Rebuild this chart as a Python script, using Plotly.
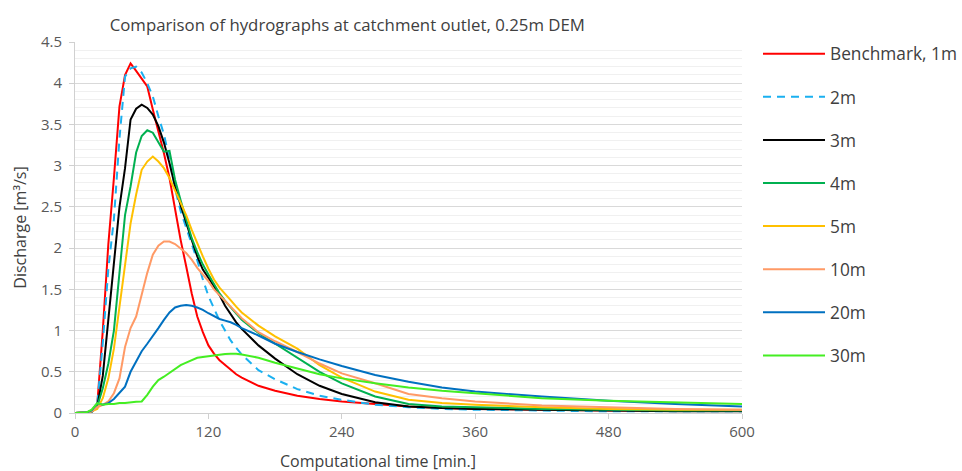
import plotly.graph_objects as go

time_min = [0, 5, 10, 15, 20, 25, 30, 35, 40, 45, 50, 55, 60, 65, 70, 75, 80, 85, 90, 95,
            100, 105, 110, 115, 120, 125, 130, 135, 140, 145, 150, 165, 180, 200, 220, 240,
            270, 300, 330, 360, 420, 480, 540, 600]

q_1m = [0, 0, 0.005, 0.01, 0.1, 1.0, 2.05, 2.85, 3.72, 4.1, 4.24, 4.15, 4.06, 3.96, 3.68, 3.42,
        3.15, 2.85, 2.45, 2.1, 1.78, 1.45, 1.17, 0.98, 0.82, 0.72, 0.64, 0.58, 0.52, 0.47,
        0.43, 0.33, 0.27, 0.21, 0.17, 0.14, 0.11, 0.08, 0.06, 0.05, 0.04, 0.03, 0.03, 0.03]
q_2m = [0, 0, 0.005, 0.01, 0.1, 0.85, 1.75, 2.35, 3.33, 4.08, 4.18, 4.2, 4.13, 4.0, 3.84, 3.6,
        3.38, 3.08, 2.72, 2.45, 2.25, 2.05, 1.85, 1.62, 1.42, 1.27, 1.12, 1.0, 0.88, 0.79,
        0.71, 0.52, 0.41, 0.29, 0.21, 0.16, 0.1, 0.07, 0.05, 0.04, 0.03, 0.02, 0.02, 0.02]
q_3m = [0, 0, 0.005, 0.02, 0.08, 0.45, 1.15, 1.8, 2.5, 2.97, 3.56, 3.69, 3.74, 3.7, 3.62, 3.48,
        3.28, 3.03, 2.75, 2.52, 2.3, 2.1, 1.9, 1.74, 1.64, 1.53, 1.43, 1.3, 1.2, 1.1,
        1.02, 0.82, 0.66, 0.47, 0.33, 0.23, 0.13, 0.08, 0.06, 0.05, 0.04, 0.03, 0.02, 0.02]
q_4m = [0, 0, 0.005, 0.02, 0.08, 0.3, 0.6, 1.0, 1.75, 2.4, 2.75, 3.16, 3.36, 3.43, 3.4, 3.28,
        3.17, 3.18, 2.83, 2.58, 2.35, 2.12, 1.95, 1.8, 1.68, 1.56, 1.45, 1.36, 1.28, 1.2,
        1.13, 0.97, 0.84, 0.67, 0.5, 0.36, 0.2, 0.11, 0.08, 0.07, 0.05, 0.04, 0.03, 0.03]
q_5m = [0, 0, 0.005, 0.02, 0.05, 0.18, 0.42, 0.78, 1.3, 1.8, 2.3, 2.65, 2.95, 3.05, 3.11, 3.05,
        2.97, 2.85, 2.7, 2.56, 2.4, 2.22, 2.05, 1.9, 1.75, 1.62, 1.52, 1.45, 1.37, 1.29,
        1.22, 1.06, 0.93, 0.78, 0.58, 0.43, 0.26, 0.16, 0.12, 0.1, 0.07, 0.05, 0.04, 0.04]
q_10m = [0, 0, 0.005, 0.02, 0.07, 0.1, 0.14, 0.24, 0.42, 0.8, 1.03, 1.17, 1.45, 1.7, 1.92, 2.03,
         2.08, 2.08, 2.05, 1.99, 1.94, 1.86, 1.76, 1.68, 1.6, 1.5, 1.43, 1.36, 1.29, 1.22,
         1.15, 0.98, 0.87, 0.74, 0.6, 0.48, 0.36, 0.23, 0.18, 0.14, 0.09, 0.07, 0.05, 0.04]
q_20m = [0, 0, 0.005, 0.03, 0.12, 0.1, 0.12, 0.17, 0.24, 0.32, 0.5, 0.62, 0.75, 0.84, 0.93, 1.03,
         1.13, 1.22, 1.28, 1.3, 1.31, 1.3, 1.28, 1.25, 1.21, 1.17, 1.14, 1.12, 1.1, 1.07,
         1.03, 0.94, 0.84, 0.74, 0.65, 0.57, 0.46, 0.38, 0.31, 0.26, 0.2, 0.15, 0.11, 0.08]
q_30m = [0, 0, 0.005, 0.04, 0.12, 0.1, 0.11, 0.11, 0.12, 0.12, 0.13, 0.135, 0.14, 0.22, 0.32, 0.4,
         0.44, 0.49, 0.53, 0.58, 0.61, 0.64, 0.67, 0.68, 0.69, 0.7, 0.71, 0.715, 0.72, 0.72,
         0.71, 0.67, 0.61, 0.54, 0.47, 0.42, 0.36, 0.31, 0.27, 0.24, 0.18, 0.15, 0.13, 0.11]

series_names = ["Benchmark, 1m", "2m", "3m", "4m", "5m", "10m", "20m", "30m"]
series_values = [q_1m, q_2m, q_3m, q_4m, q_5m, q_10m, q_20m, q_30m]
series_colors = ["#ff0000", "#1ab0f0", "#000000", "#00b050", "#ffc000", "#ff9a66", "#0070c0", "#44ee22"]
series_dash = ["solid", "8px,6px", "solid", "solid", "solid", "solid", "solid", "solid"]

x_ticks = [0, 120, 240, 360, 480, 600]
y_ticks = [0, 0.5, 1, 1.5, 2, 2.5, 3, 3.5, 4, 4.5]
y_tick_text = ["0", "0.5", "1", "1.5", "2", "2.5", "3", "3.5", "4", "4.5"]

FONT = "Open Sans"
GREY = "#595959"
DARK = "#404040"

fig = go.Figure()
for i, (name, vals, col, dash) in enumerate(zip(series_names, series_values, series_colors, series_dash)):
    fig.add_trace(go.Scatter(
        x=time_min, y=vals, mode="lines", name=name,
        line=dict(color=col, width=2, dash=dash),
        legendgroup=f"g{i}",
    ))

fig.update_layout(
    width=962, height=471,
    margin=dict(l=75, r=220, t=42, b=58, autoexpand=False),
    plot_bgcolor="white", paper_bgcolor="white",
    font=dict(family=FONT, color=GREY, size=14),
    title=dict(text="Comparison of hydrographs at catchment outlet, 0.25m DEM",
               x=0.361, xref="container", xanchor="center",
               y=0.947, yref="container", yanchor="middle",
               font=dict(family=FONT, size=16.8, color=DARK)),
    showlegend=True,
    legend=dict(x=758 / 962, xref="container", xanchor="left",
                y=1 - 36 / 471, yref="container", yanchor="top",
                font=dict(family=FONT, size=17.3, color=DARK),
                itemwidth=62, tracegroupgap=17.6, maxheight=460,
                bgcolor="rgba(0,0,0,0)"),
    xaxis=dict(range=[0, 600], tickvals=x_ticks, ticktext=[str(v) for v in x_ticks],
               showgrid=False, zeroline=False, showline=True, linecolor="#d0d0d0", linewidth=1,
               ticks="outside", ticklen=5, tickcolor="#d0d0d0",
               tickfont=dict(size=15, color=GREY)),
    yaxis=dict(range=[0, 4.5], tickvals=y_ticks, ticktext=y_tick_text,
               showgrid=True, gridcolor="#d9d9d9", gridwidth=1, zeroline=False,
               showline=True, linecolor="#d0d0d0", linewidth=1,
               ticks="outside", ticklen=5, tickcolor="#d0d0d0", ticklabelstandoff=4,
               tickfont=dict(size=15, color=GREY),
               minor=dict(dtick=0.1, showgrid=True, gridcolor="#f0f0f0", gridwidth=1, ticks=""),
               title=dict(text="Discharge [m³/s]", font=dict(size=16, color=DARK), standoff=10)),
    annotations=[dict(text="Computational time [min.]", x=(378 - 75) / 667, xref="paper",
                      y=(413.3 - 461) / 371, yref="paper", xanchor="center", yanchor="middle",
                      showarrow=False, font=dict(size=16, color=DARK, family=FONT))],
)

fig.write_html("out.html")
